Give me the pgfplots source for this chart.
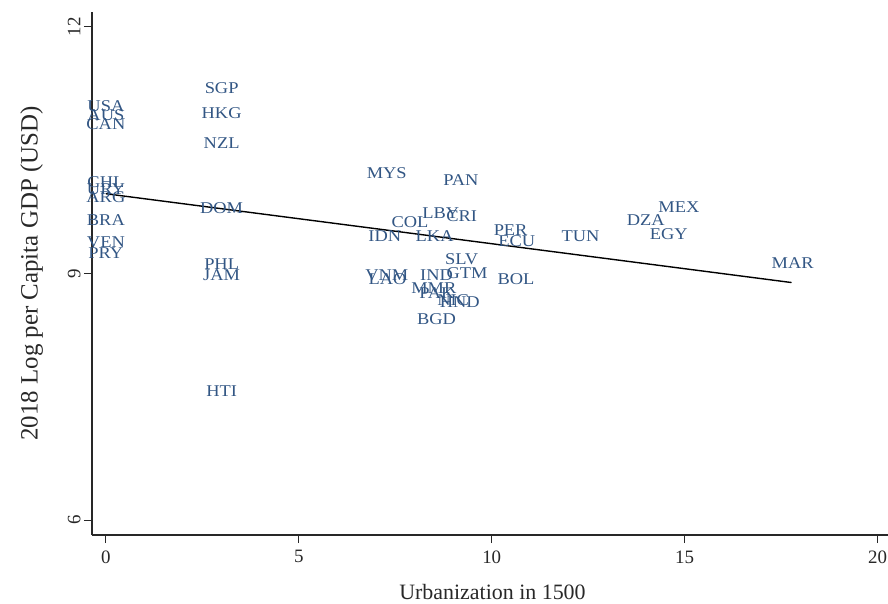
\documentclass[border=0pt]{standalone}
\usepackage{fontspec}
\setmainfont{Liberation Serif}
\usepackage{pgfplots}
\pgfplotsset{compat=1.18}
\usepackage{pgfplotstable}
\definecolor{statanavy}{RGB}{50,86,132}
\definecolor{axisgray}{RGB}{40,40,40}

% country, urbanization in 1500, log GDP per capita 2018
\pgfplotstableread{
lab x y
USA 0 11.04
AUS 0 10.93
CAN 0 10.82
CHL 0 10.11
URY 0 10.03
ARG 0 9.93
BRA 0 9.65
VEN 0 9.38
PRY 0 9.25
SGP 3 11.25
HKG 3 10.95
NZL 3 10.59
DOM 3 9.79
PHL 3 9.12
JAM 3 8.98
HTI 3 7.57
MYS 7.28 10.22
PAN 9.2 10.13
LBY 8.68 9.73
CRI 9.22 9.70
COL 7.88 9.63
IDN 7.23 9.46
LKA 8.52 9.45
PER 10.49 9.53
ECU 10.65 9.39
TUN 12.3 9.45
DZA 13.99 9.65
MEX 14.85 9.81
EGY 14.59 9.48
MAR 17.8 9.13
BOL 10.63 8.93
SLV 9.22 9.17
GTM 9.36 9.01
VNM 7.28 8.98
LAO 7.3 8.93
IND 8.57 8.98
MMR 8.5 8.82
PAK 8.58 8.76
HND 9.17 8.65
NIC 9.0 8.67
BGD 8.57 8.44
}\countries

\begin{document}
\begin{tikzpicture}
\begin{axis}[
    at={(92bp,69bp)}, anchor=south west,
    scale only axis,
    width=801bp, height=523bp,
    xmin=-0.36, xmax=20.4,
    ymin=5.82, ymax=12.18,
    axis x line=bottom, axis y line=left,
    axis line style={-, axisgray, line width=1.3bp},
    xtick={0,5,10,15,20}, ytick={6,9,12},
    tick align=outside,
    major tick length=8bp,
    tick style={axisgray, line width=1.2bp},
    /pgf/number format/assume math mode=true,
    ticklabel style={font=\fontsize{19}{22}\selectfont, text=axisgray},
    xticklabel style={yshift=-4bp},
    yticklabel style={rotate=90, anchor=south},
    xlabel={Urbanization in 1500},
    ylabel={2018 Log per Capita GDP (USD)},
    xlabel style={font=\fontsize{22}{26}\selectfont, text=axisgray, yshift=-14bp},
    ylabel style={font=\fontsize{25}{28}\selectfont, text=axisgray, yshift=18bp},
    clip=false,
]
\addplot[black, line width=1.4bp] coordinates {(0,9.97) (17.77,8.89)};
\addplot[only marks, mark=*, mark size=0pt, mark options={draw=none, fill=none},
    nodes near coords, point meta=explicit symbolic,
    nodes near coords style={anchor=center, inner sep=0pt, xscale=1.12,
        font=\fontsize{16.5}{18}\selectfont, text=statanavy}]
    table[x=x, y=y, meta=lab] {\countries};
\end{axis}
\pgfresetboundingbox
\path (0,0) rectangle (888bp,604bp);
\end{tikzpicture}
\end{document}
